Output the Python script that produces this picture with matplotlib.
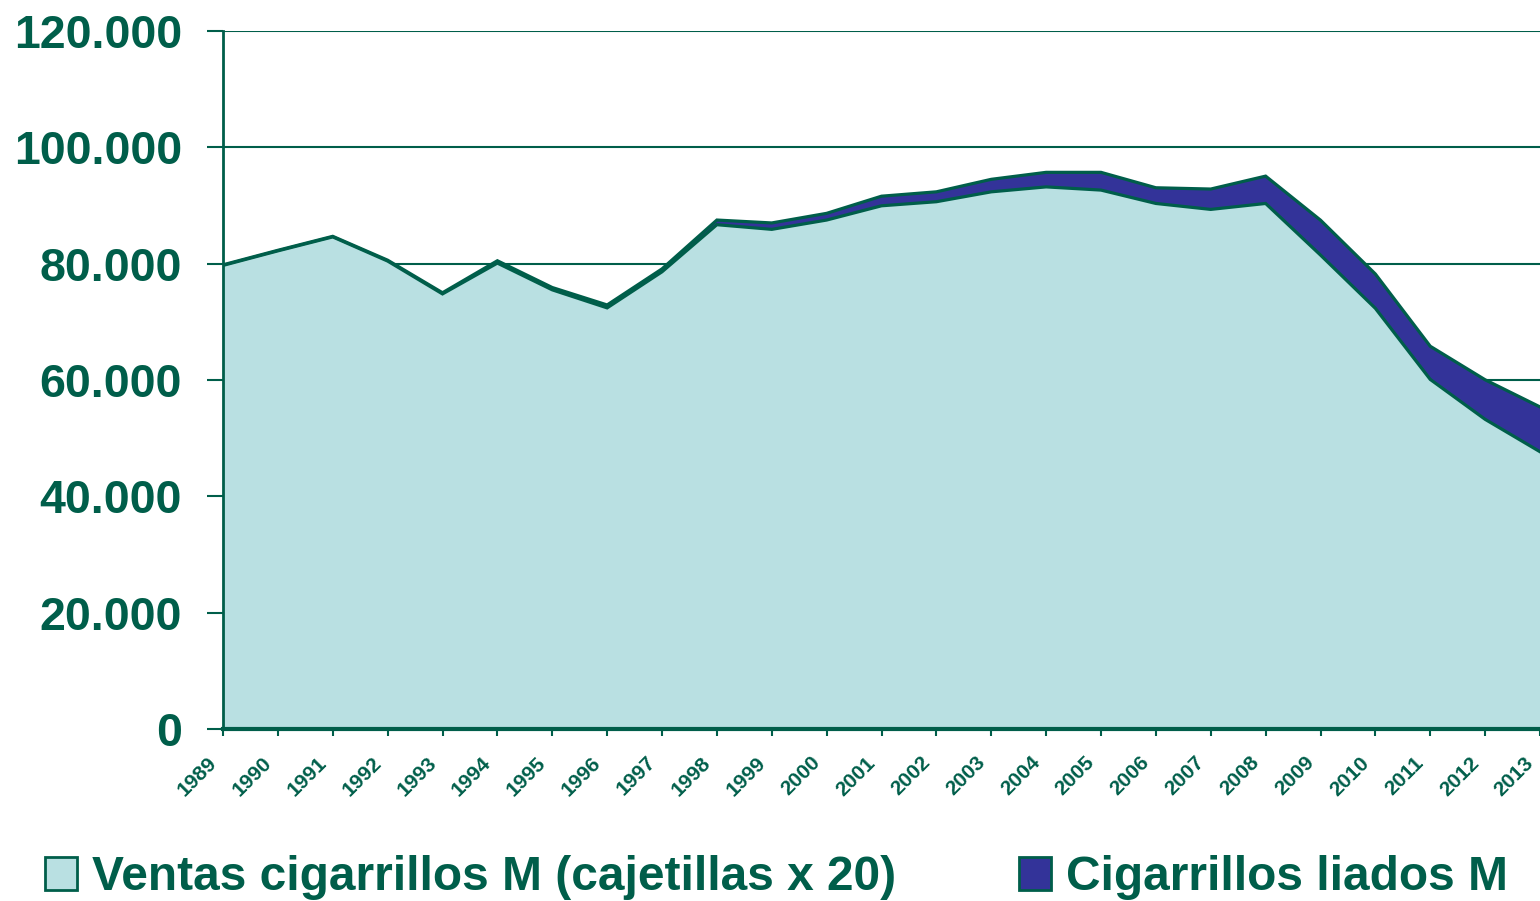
import numpy as np
import matplotlib
matplotlib.use("Agg")
from matplotlib import pyplot as plt
from matplotlib import transforms
from matplotlib.patches import Patch
from matplotlib.ticker import FuncFormatter

# data (millions)
years = list(range(1989, 2014))
ventas = [79700, 82200, 84600, 80450, 74800, 80100, 75500, 72400, 78600, 86700,
          85900, 87500, 89950, 90650, 92350, 93200, 92650, 90350, 89330, 90350,
          81480, 72320, 60100, 53240, 47670]
liados = [100, 100, 100, 150, 200, 400, 400, 500, 500, 800,
          1100, 1150, 1650, 1700, 2150, 2500, 3050, 2700, 3500, 4700,
          6000, 5900, 5700, 6800, 7700]
series_names = ["Ventas cigarrillos M (cajetillas x 20)", "Cigarrillos liados M"]

green = "#005E4A"
light = "#B9E0E2"
dark = "#333399"

plt.rcParams['font.family'] = ['Liberation Sans', 'DejaVu Sans']

fig = plt.figure(figsize=(15.4, 9.01), dpi=100)
ax = fig.add_axes([223/1540, 172/901, 1317/1540, 698/901])

x = np.array(years)
v = np.array(ventas)
tot = v + np.array(liados)

ax.fill_between(x, 0, v, color=light, lw=0, zorder=2)
ax.fill_between(x, v, tot, color=dark, lw=0, zorder=2)
ax.plot(x, tot, color=green, lw=2.3, zorder=3, solid_joinstyle='miter')
ax.plot(x, v, color=green, lw=2.3, zorder=3, solid_joinstyle='miter')

ax.set_xlim(1989, 2013)
ax.set_ylim(0, 120000)
ax.set_yticks(np.arange(0, 120001, 20000))
ax.yaxis.set_major_formatter(FuncFormatter(lambda val, p: f"{int(val):,}".replace(",", ".")))
ax.set_xticks(years)

ax.grid(axis='y', color=green, lw=1.5, zorder=1)
ax.set_axisbelow(True)

for s in ['top', 'right']:
    ax.spines[s].set_visible(False)
ax.spines['left'].set_color(green)
ax.spines['left'].set_linewidth(2)
ax.spines['bottom'].set_color(green)
ax.spines['bottom'].set_linewidth(3)
ax.spines['bottom'].set_zorder(4)

ax.tick_params(axis='y', length=11.5, width=1.5, color=green, pad=18,
               labelsize=33.5, labelcolor=green)
for t in ax.get_yticklabels():
    t.set_fontweight('bold')
ax.tick_params(axis='x', length=5, width=1.5, color=green, labelbottom=False)

# year labels, slanted, placed a bit left of / below each tick
shift = transforms.ScaledTranslation(-16/100, -24/100, fig.dpi_scale_trans)
for yr in years:
    ax.text(yr, 0, str(yr), transform=ax.get_xaxis_transform() + shift,
            rotation=45, ha='right', va='top', rotation_mode='anchor',
            fontsize=15, fontweight='bold', color=green, clip_on=False)

handles = [Patch(facecolor=light, edgecolor=green, lw=2),
           Patch(facecolor=dark, edgecolor=green, lw=2)]
leg = fig.legend(handles, series_names, loc='center left', bbox_to_anchor=(45/1540, 1 - 878/901),
                 ncol=2, frameon=False, handlelength=0.67, handleheight=0.67,
                 handletextpad=0.31, columnspacing=2.56, borderpad=0, borderaxespad=0,
                 prop={'size': 34.5, 'weight': 'bold'})
for t in leg.get_texts():
    t.set_color(green)

fig.savefig("out.png", dpi=100)
